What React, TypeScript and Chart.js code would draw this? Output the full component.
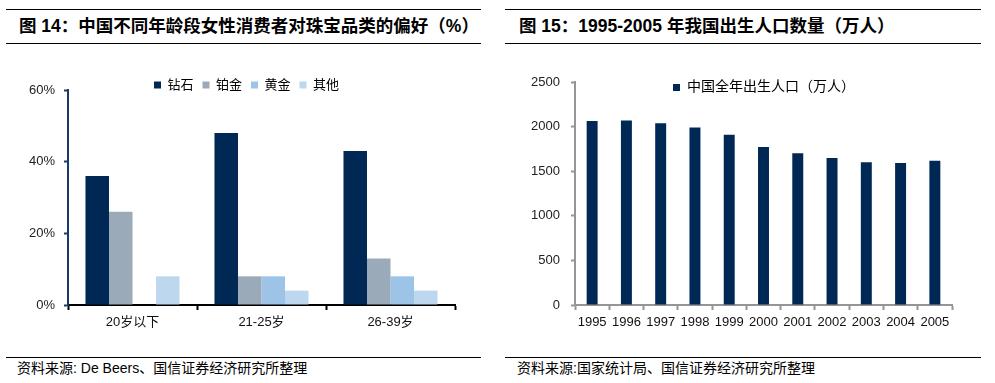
import React, { useEffect, useRef } from 'react';
import { Chart, registerables } from 'chart.js';

Chart.register(...registerables);

// ---- Data: Chart 14 ----
const ageGroups = ['20岁以下', '21-25岁', '26-39岁'];
const diamond = [36, 48, 43];
const platinum = [26, 8, 13];
const gold = [0, 8, 8];
const other = [8, 4, 4];
const seriesNames14 = ['钻石', '铂金', '黄金', '其他'];

// ---- Data: Chart 15 ----
const years = ['1995', '1996', '1997', '1998', '1999', '2000', '2001', '2002', '2003', '2004', '2005'];
const births = [2063, 2067, 2038, 1991, 1909, 1771, 1702, 1647, 1599, 1593, 1617];
const seriesName15 = '中国全年出生人口（万人）';

const FONT = "'Liberation Sans', 'Noto Sans CJK SC', Arial, sans-serif";

function legendPlacer(left: number, top: number) {
  return {
    id: 'legendPlacer',
    beforeInit(chart: any) {
      const lg = chart.legend;
      if (!lg) return;
      const orig = lg.fit;
      lg.fit = function () {
        orig.call(this);
        this.height = 0;
      };
    },
    afterLayout(chart: any) {
      const lg = chart.legend;
      if (!lg) return;
      lg.left = left;
      lg.right = chart.width;
      lg.top = top;
      lg.bottom = top + 40;
      lg.width = chart.width - left;
      lg.height = 40;
    },
  };
}

function PrefChart() {
  const ref = useRef<HTMLCanvasElement | null>(null);
  useEffect(() => {
    if (!ref.current) return;
    const navy = '#1a3a66';
    const chart = new Chart(ref.current, {
      type: 'bar',
      data: {
        labels: ageGroups,
        datasets: [
          { label: seriesNames14[0], data: diamond, backgroundColor: '#002855' },
          { label: seriesNames14[1], data: platinum, backgroundColor: '#9aaab9' },
          { label: seriesNames14[2], data: gold, backgroundColor: '#9dc3e6' },
          { label: seriesNames14[3], data: other, backgroundColor: '#bdd7ee' },
        ],
      },
      options: {
        responsive: false,
        animation: false,
        layout: { padding: { left: 0, right: 40, top: 40, bottom: 0 } },
        datasets: { bar: { categoryPercentage: 0.729, barPercentage: 1, borderWidth: 0 } },
        plugins: {
          tooltip: { enabled: false },
          legend: {
            display: true,
            position: 'top',
            align: 'start',
            labels: {
              boxWidth: 7,
              boxHeight: 7,
              padding: 9,
              color: '#000',
              font: { family: FONT, size: 13 },
            },
          },
        },
        scales: {
          x: {
            afterFit: (s: any) => { s.height = 45; },
            grid: { display: true, offset: true, drawOnChartArea: false, drawTicks: true, tickLength: 5, tickColor: '#000', tickWidth: 2 },
            border: { display: true, color: '#000', width: 2 },
            ticks: { padding: 5, color: '#111', font: { family: FONT, size: 13 }, maxRotation: 0, autoSkip: false },
          },
          y: {
            min: 0,
            max: 60,
            afterFit: (s: any) => { s.width = 68; },
            grid: { display: true, drawOnChartArea: false, drawTicks: true, tickLength: 4, tickColor: navy, tickWidth: 2 },
            border: { display: true, color: navy, width: 2 },
            ticks: {
              stepSize: 20,
              padding: 9,
              color: '#222',
              font: { family: FONT, size: 13 },
              callback: (v: any) => v + '%',
            },
          },
        },
      },
      plugins: [legendPlacer(145, 19.5)],
    } as any);
    return () => chart.destroy();
  }, []);
  return (
    <canvas
      ref={ref}
      width={495}
      height={300}
      style={{ position: 'absolute', left: 0, top: 50, width: 495, height: 300 }}
    />
  );
}

function BirthChart() {
  const ref = useRef<HTMLCanvasElement | null>(null);
  useEffect(() => {
    if (!ref.current) return;
    const gray = '#959595';
    const chart = new Chart(ref.current, {
      type: 'bar',
      data: {
        labels: years,
        datasets: [{ label: seriesName15, data: births, backgroundColor: '#002855' }],
      },
      options: {
        responsive: false,
        animation: false,
        layout: { padding: { left: 0, right: 43, top: 32, bottom: 0 } },
        datasets: { bar: { categoryPercentage: 1, barPercentage: 0.32, borderWidth: 0 } },
        plugins: {
          tooltip: { enabled: false },
          legend: {
            display: true,
            position: 'top',
            align: 'start',
            labels: {
              boxWidth: 7,
              boxHeight: 7,
              padding: 9,
              color: '#000',
              font: { family: FONT, size: 14 },
            },
          },
        },
        scales: {
          x: {
            afterFit: (s: any) => { s.height = 45; },
            grid: { display: true, offset: true, drawOnChartArea: false, drawTicks: true, tickLength: 5, tickColor: gray, tickWidth: 2 },
            border: { display: true, color: gray, width: 2 },
            ticks: { padding: 5, color: '#111', font: { family: FONT, size: 13 }, maxRotation: 0, autoSkip: false },
          },
          y: {
            min: 0,
            max: 2500,
            afterFit: (s: any) => { s.width = 75; },
            grid: { display: true, drawOnChartArea: false, drawTicks: true, tickLength: 4, tickColor: gray, tickWidth: 2 },
            border: { display: true, color: gray, width: 2 },
            ticks: {
              stepSize: 500,
              padding: 11,
              color: '#222',
              font: { family: FONT, size: 13 },
              callback: (v: any) => String(v),
            },
          },
        },
      },
      plugins: [legendPlacer(164, 21.5)],
    } as any);
    return () => chart.destroy();
  }, []);
  return (
    <canvas
      ref={ref}
      width={495}
      height={300}
      style={{ position: 'absolute', left: 500, top: 50, width: 495, height: 300 }}
    />
  );
}

const rule = (left: number, top: number, width: number): React.CSSProperties => ({
  position: 'absolute',
  left,
  top,
  width,
  height: 1,
  background: '#000',
});

const titleStyle = (left: number): React.CSSProperties => ({
  position: 'absolute',
  left,
  top: 14,
  lineHeight: '24px',
  fontSize: 17.5,
  fontWeight: 'bold',
  fontFamily: FONT,
  color: '#000',
  whiteSpace: 'nowrap',
});

const sourceStyle = (left: number): React.CSSProperties => ({
  position: 'absolute',
  left,
  top: 358,
  lineHeight: '20px',
  fontSize: 14,
  fontFamily: FONT,
  color: '#000',
  whiteSpace: 'nowrap',
});

export default function App() {
  return (
    <div style={{ position: 'absolute', left: 0, top: 0, width: 995, height: 383, background: '#fff', overflow: 'hidden' }}>
      <div style={rule(6, 9, 475)} />
      <div style={rule(6, 43, 475)} />
      <div style={rule(505, 9, 476)} />
      <div style={rule(505, 43, 476)} />
      <div style={titleStyle(19)}>图 14：中国不同年龄段女性消费者对珠宝品类的偏好（%）</div>
      <div style={titleStyle(519)}>图 15：1995-2005 年我国出生人口数量（万人）</div>
      <PrefChart />
      <BirthChart />
      <div style={rule(6, 357, 475)} />
      <div style={rule(505, 357, 476)} />
      <div style={sourceStyle(17)}>资料来源: De Beers、国信证券经济研究所整理</div>
      <div style={sourceStyle(517)}>资料来源:国家统计局、国信证券经济研究所整理</div>
    </div>
  );
}
